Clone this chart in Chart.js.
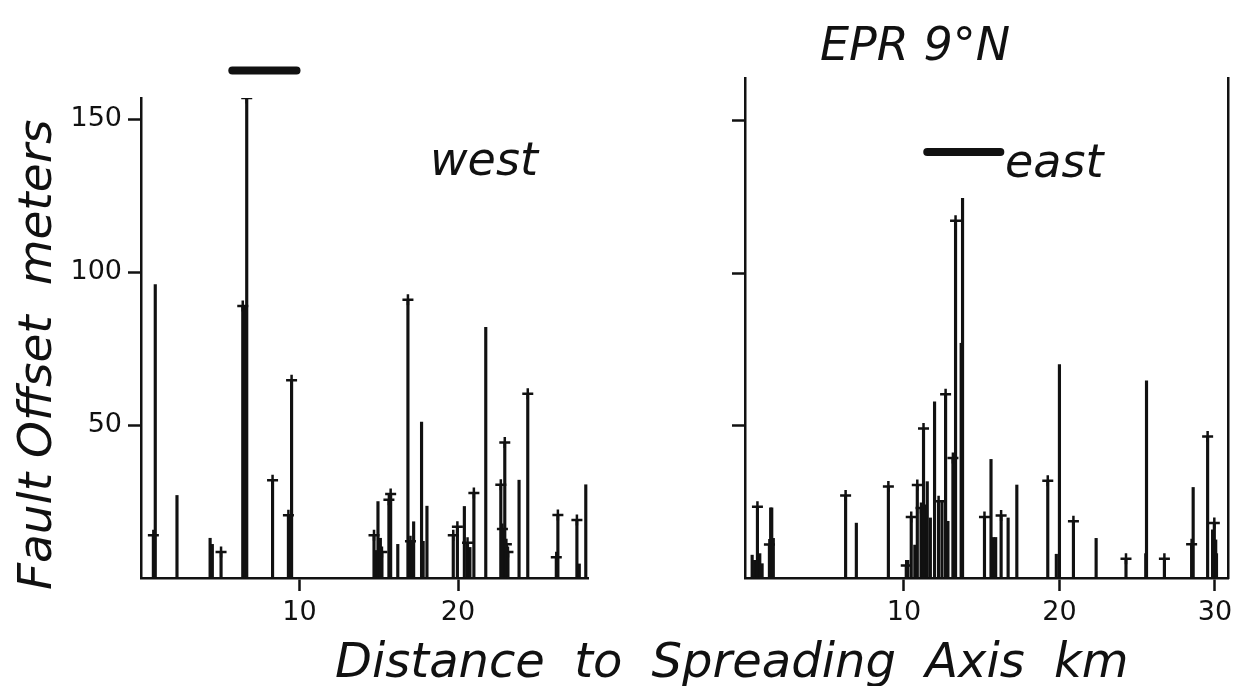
<!DOCTYPE html>
<html>
<head>
<meta charset="utf-8">
<script src="https://cdn.jsdelivr.net/npm/chart.js@4/dist/chart.umd.min.js"></script>
<style>
  body { margin: 0; background: #fff; width: 1245px; height: 686px; overflow: hidden; position: relative; font-family: "DejaVu Sans", sans-serif; }
  canvas { position: absolute; top: 0; }
  #west-canvas { left: 0; }
  #east-canvas { left: 620px; }
  .lbl { position: absolute; font-style: italic; color: #111; white-space: nowrap; line-height: 1; }
</style>
</head>
<body>
<canvas id="west-canvas" width="620" height="686"></canvas>
<canvas id="east-canvas" width="625" height="686"></canvas>

<div class="lbl" style="left:820px; top:21px; font-size:46px;">EPR 9°N</div>
<div class="lbl" style="left:430px; top:136px; font-size:46px;">west</div>
<div class="lbl" style="left:1005px; top:138px; font-size:46px;">east</div>
<div class="lbl" style="left:11px; top:590px; font-size:47px; transform:rotate(-90deg); transform-origin:0 0;">Fault Offset&nbsp; meters</div>
<div class="lbl" style="left:335px; top:636px; font-size:48px; word-spacing:14px;">Distance to Spreading Axis km</div>

<script>
// west flank: distance (km), fault offset (m), 1 = stick ends with an arrow mark
const westKm  = [0.78, 0.9, 2.27, 4.36, 4.5, 5.05, 6.42, 6.5, 6.58, 6.67, 8.3, 9.3, 9.5,
                 14.7, 14.8, 14.95, 15.1, 15.2, 15.64, 15.75, 16.2, 16.84, 17.0, 17.1, 17.2, 17.7, 17.8, 18.04,
                 19.7, 19.96, 20.4, 20.6, 20.75, 21.0, 21.75, 22.7, 22.8, 22.95, 23.05, 23.15, 23.85, 24.4,
                 26.2, 26.3, 27.5, 27.65, 28.06];
const westM   = [14, 96, 27, 13, 11, 8.5, 89, 89, 89, 157, 32, 20.5, 64.7,
                 14, 9, 25, 13, 8.5, 25.6, 27.5, 11, 91, 12, 12, 18.4, 51, 12, 23.5,
                 14, 16.8, 23.4, 11.5, 10, 27.8, 82, 30.5, 16, 44.3, 11, 8.5, 32, 60.3,
                 6.8, 20.6, 19, 4.6, 30.5];
const westTip = [1, 0, 0, 0, 0, 1, 1, 0, 0, 1, 1, 1, 1,
                 1, 0, 0, 0, 1, 1, 1, 0, 1, 1, 0, 0, 0, 0, 0,
                 1, 1, 0, 1, 0, 1, 0, 1, 1, 1, 1, 1, 0, 1,
                 1, 1, 1, 0, 0];

// east flank
const eastKm  = [0.24, 0.4, 0.58, 0.73, 0.88, 1.35, 1.43, 1.5, 1.6, 6.25, 6.94, 9.0,
                 10.15, 10.25, 10.47, 10.7, 10.86, 11.1, 11.26, 11.4, 11.5, 11.7, 11.97, 12.23, 12.45,
                 12.68, 12.83, 13.15, 13.32, 13.68, 13.77,
                 15.18, 15.6, 15.75, 15.9, 16.25, 16.7, 17.26, 19.25, 19.8, 20.0, 20.9, 22.36,
                 24.28, 25.55, 25.6, 26.75, 28.5, 28.6, 29.53, 29.85, 29.96, 30.05, 30.1];
const eastM   = [7.5, 5.8, 23.4, 8, 4.7, 11, 23, 23, 13, 27.1, 18, 30,
                 4.1, 5.8, 20, 10.8, 30.5, 23, 49, 24, 31.6, 19.7, 57.8, 25.2, 25.2,
                 60.3, 18.6, 39.4, 117.2, 77, 124.5,
                 20, 38.9, 13.3, 13.3, 20.5, 19.7, 30.5, 31.9, 7.8, 70, 18.6, 13,
                 6.3, 8, 64.7, 6.3, 11.1, 29.7, 46.4, 15.8, 18, 12.5, 8];
const eastTip = [0, 0, 1, 0, 0, 1, 0, 0, 0, 1, 0, 1,
                 1, 0, 1, 0, 1, 1, 1, 0, 0, 0, 0, 1, 0,
                 1, 0, 1, 1, 0, 0,
                 1, 0, 0, 0, 1, 0, 0, 1, 0, 0, 1, 0,
                 1, 0, 0, 1, 1, 0, 1, 0, 1, 0, 0];

// thick horizontal marks above each panel (km from, km to, height m)
const westMark = [5.76, 9.81, 166];
const eastMark = [11.5, 16.2, 139.7];

const yTicks = [50, 100, 150];
const westXTicks = [10, 20];
const eastXTicks = [10, 20, 30];

function makePanel(id, km, m, tip, mark, cfg) {
  const sticks = km.map((x, i) => ({ x: x, y: m[i] }));
  const tips = km.map((x, i) => ({ x: x, y: m[i] })).filter((p, i) => tip[i]);
  const scales = {
    x: {
      type: 'linear', min: cfg.xMin, max: cfg.xMax, offset: false,
      afterBuildTicks: s => { s.ticks = cfg.xTicks.map(v => ({ value: v })); },
      afterFit: s => { s.height = 108; },
      grid: { offset: false, drawOnChartArea: false, tickLength: 13, tickColor: '#111', tickWidth: 2.5 },
      border: { color: '#111', width: 2.5 },
      ticks: { color: '#111', padding: 6, maxRotation: 0, font: { family: 'DejaVu Sans', size: 27 } }
    },
    y: {
      min: 0, max: cfg.yMax,
      afterBuildTicks: s => { s.ticks = yTicks.map(v => ({ value: v })); },
      afterFit: s => { s.width = cfg.yWidth; },
      grid: { drawOnChartArea: false, tickLength: 13, tickColor: '#111', tickWidth: 2.5 },
      border: { color: '#111', width: 2.5 },
      ticks: { display: cfg.yLabels, color: '#111', padding: 6, font: { family: 'DejaVu Sans', size: 27 } }
    }
  };
  if (cfg.rightFrame) {
    scales.y2 = {
      position: 'right', min: 0, max: cfg.yMax,
      afterFit: s => { s.width = 0; },
      grid: { display: false }, ticks: { display: false },
      border: { color: '#111', width: 2.5 }
    };
  }
  return new Chart(document.getElementById(id), {
    type: 'bar',
    data: {
      datasets: [
        {
          type: 'bar', data: sticks, yAxisID: 'y',
          backgroundColor: '#111', barThickness: 2.5, grouped: false
        },
        {
          type: 'line', data: tips, yAxisID: 'y', showLine: false,
          pointStyle: 'cross', pointRadius: 5.5, pointBorderWidth: 2.5,
          pointBorderColor: '#111', pointBackgroundColor: '#111'
        },
        {
          type: 'line', data: [{ x: mark[0], y: mark[2] }, { x: mark[1], y: mark[2] }], yAxisID: 'y',
          borderColor: '#111', borderWidth: 8, borderCapStyle: 'round', pointRadius: 0, clip: false
        }
      ]
    },
    options: {
      responsive: false,
      animation: false,
      layout: { padding: { top: cfg.top, right: cfg.right, left: 0, bottom: 0 } },
      plugins: { legend: { display: false }, tooltip: { enabled: false } },
      scales: scales
    }
  });
}

makePanel('west-canvas', westKm, westM, westTip, westMark, {
  xMin: 0, xMax: 28.2, xTicks: westXTicks, yMax: 157, yWidth: 141, yLabels: true, top: 98, right: 32, rightFrame: false
});
makePanel('east-canvas', eastKm, eastM, eastTip, eastMark, {
  xMin: -0.22, xMax: 30.84, xTicks: eastXTicks, yMax: 164, yWidth: 125, yLabels: false, top: 78, right: 17, rightFrame: true
});
</script>
</body>
</html>
